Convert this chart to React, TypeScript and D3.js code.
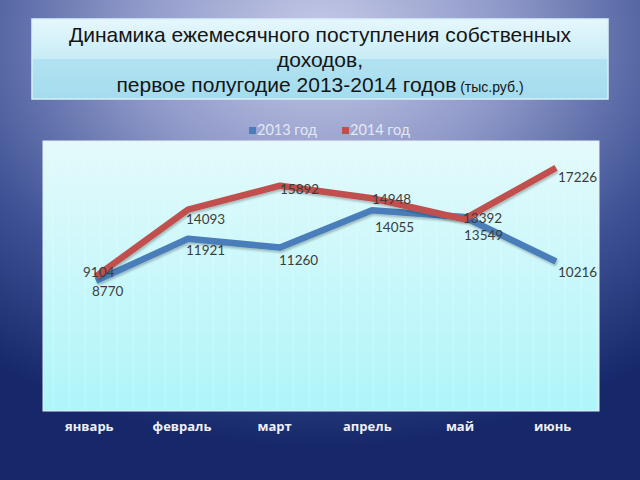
import React from "react";
import * as d3 from "d3";

const months = ["январь", "февраль", "март", "апрель", "май", "июнь"];
const values2013 = [8770, 11921, 11260, 14055, 13549, 10216];
const values2014 = [9104, 14093, 15892, 14948, 13392, 17226];
const seriesNames = ["2013 год", "2014 год"];
const titleLines = ["Динамика ежемесячного поступления собственных", "доходов,"];
const titleLine3 = "первое полугодие 2013-2014 годов";
const titleUnit = " (тыс.руб.)";

// label placement (dx, dy) relative to each point
const labelOffsets2013: [number, number][] = [[-4, 15], [-2, 16], [-1, 17], [3, 22], [0, 23], [2, 15]];
const labelOffsets2014: [number, number][] = [[-13, 1], [-2, 14], [0, 8], [0, 6], [-1, 4], [2, 14]];

const W = 640, H = 480;
const plot = { x0: 43, x1: 599, y0: 141, y1: 411 };

export default function App() {
  const xBand = d3.scaleBand<string>().domain(months).range([plot.x0, plot.x1]);
  const xPt = d3.scalePoint<string>().domain(months).range([96, 556]);
  const y = d3.scaleLinear().domain([0, 18000]).range([398, 157.5]);

  const line = d3
    .line<number>()
    .x((_, i) => xPt(months[i]) as number)
    .y((d) => y(d));

  const series = [
    { name: seriesNames[0], values: values2013, color: "#4a7ebb", offsets: labelOffsets2013 },
    { name: seriesNames[1], values: values2014, color: "#c0504d", offsets: labelOffsets2014 },
  ];

  const texture = d3.range(plot.x0 + 10, plot.x1, 16);

  return (
    <svg width={W} height={H} style={{ position: "absolute", left: 0, top: 0 }}>
      <defs>
        <radialGradient id="bg" cx="50%" cy="8%" r="85%" fx="50%" fy="8%">
          <stop offset="0" stopColor="#c6cbe8" />
          <stop offset="0.35" stopColor="#8e98c8" />
          <stop offset="0.7" stopColor="#3d5194" />
          <stop offset="1" stopColor="#16286a" />
        </radialGradient>
        <linearGradient id="titleTop" x1="0" y1="0" x2="0" y2="1">
          <stop offset="0" stopColor="#e6f7fc" />
          <stop offset="1" stopColor="#c8ecf7" />
        </linearGradient>
        <linearGradient id="titleBot" x1="0" y1="0" x2="0" y2="1">
          <stop offset="0" stopColor="#b2e2f1" />
          <stop offset="1" stopColor="#a4dcee" />
        </linearGradient>
        <linearGradient id="plotBg" x1="0" y1="0" x2="0" y2="1">
          <stop offset="0" stopColor="#e4fafb" />
          <stop offset="1" stopColor="#aef5fa" />
        </linearGradient>
        <filter id="shadow" x="-10%" y="-10%" width="120%" height="130%">
          <feDropShadow dx="1" dy="2" stdDeviation="1.2" floodColor="#000" floodOpacity="0.25" />
        </filter>
      </defs>
      <rect x={0} y={0} width={W} height={H} fill="url(#bg)" />

      {/* Title box */}
      <rect x={32} y={19} width={576} height={40} fill="url(#titleTop)" />
      <rect x={32} y={59} width={576} height={40} fill="url(#titleBot)" />
      <rect x={32} y={19} width={576} height={80} fill="none" stroke="#d6f1f9" strokeWidth={1.5} />
      <g fontFamily="'Liberation Sans', Arial, sans-serif" fill="#151515" textAnchor="middle">
        <text x={320} y={42} fontSize={21}>{titleLines[0]}</text>
        <text x={320} y={67} fontSize={21}>{titleLines[1]}</text>
        <text x={320} y={92} fontSize={21}>
          {titleLine3}
          <tspan fontSize={14}>{titleUnit}</tspan>
        </text>
      </g>

      {/* Legend */}
      <g fontFamily="Lato, 'Open Sans', sans-serif" fontSize={14.5} fill="#e4e8f4">
        <rect x={249} y={127} width={7} height={7} fill="#4a7ebb" />
        <text x={257} y={135}>{seriesNames[0]}</text>
        <rect x={342} y={127} width={7} height={7} fill="#c0504d" />
        <text x={350} y={135}>{seriesNames[1]}</text>
      </g>

      {/* Plot area */}
      <rect x={plot.x0} y={plot.y0} width={plot.x1 - plot.x0} height={plot.y1 - plot.y0} fill="url(#plotBg)" stroke="#e8eef6" strokeWidth={1} />
      {texture.map((tx) => (
        <line key={tx} x1={tx} x2={tx} y1={plot.y0 + 1} y2={plot.y1 - 1} stroke="#ffffff" strokeOpacity={0.25} strokeWidth={1} />
      ))}

      {series.map((s) => (
        <path key={s.name} d={line(s.values) || ""} fill="none" stroke={s.color} strokeWidth={6.5} strokeLinejoin="round" filter="url(#shadow)" />
      ))}

      <g fontFamily="Lato, 'Open Sans', sans-serif" fontSize={13.5} fill="#3c3c3c">
        {series.map((s) =>
          s.values.map((v, i) => (
            <text key={s.name + i} x={(xPt(months[i]) as number) + s.offsets[i][0]} y={y(v) + s.offsets[i][1]}>
              {v}
            </text>
          ))
        )}
      </g>

      {/* Category labels */}
      <g fontFamily="'Open Sans', Lato, sans-serif" fontSize={13} fontWeight="bold" fill="#eef0f8" textAnchor="middle">
        {months.map((m) => (
          <text key={m} x={(xBand(m) as number) + xBand.bandwidth() / 2} y={431}>
            {m}
          </text>
        ))}
      </g>
    </svg>
  );
}
